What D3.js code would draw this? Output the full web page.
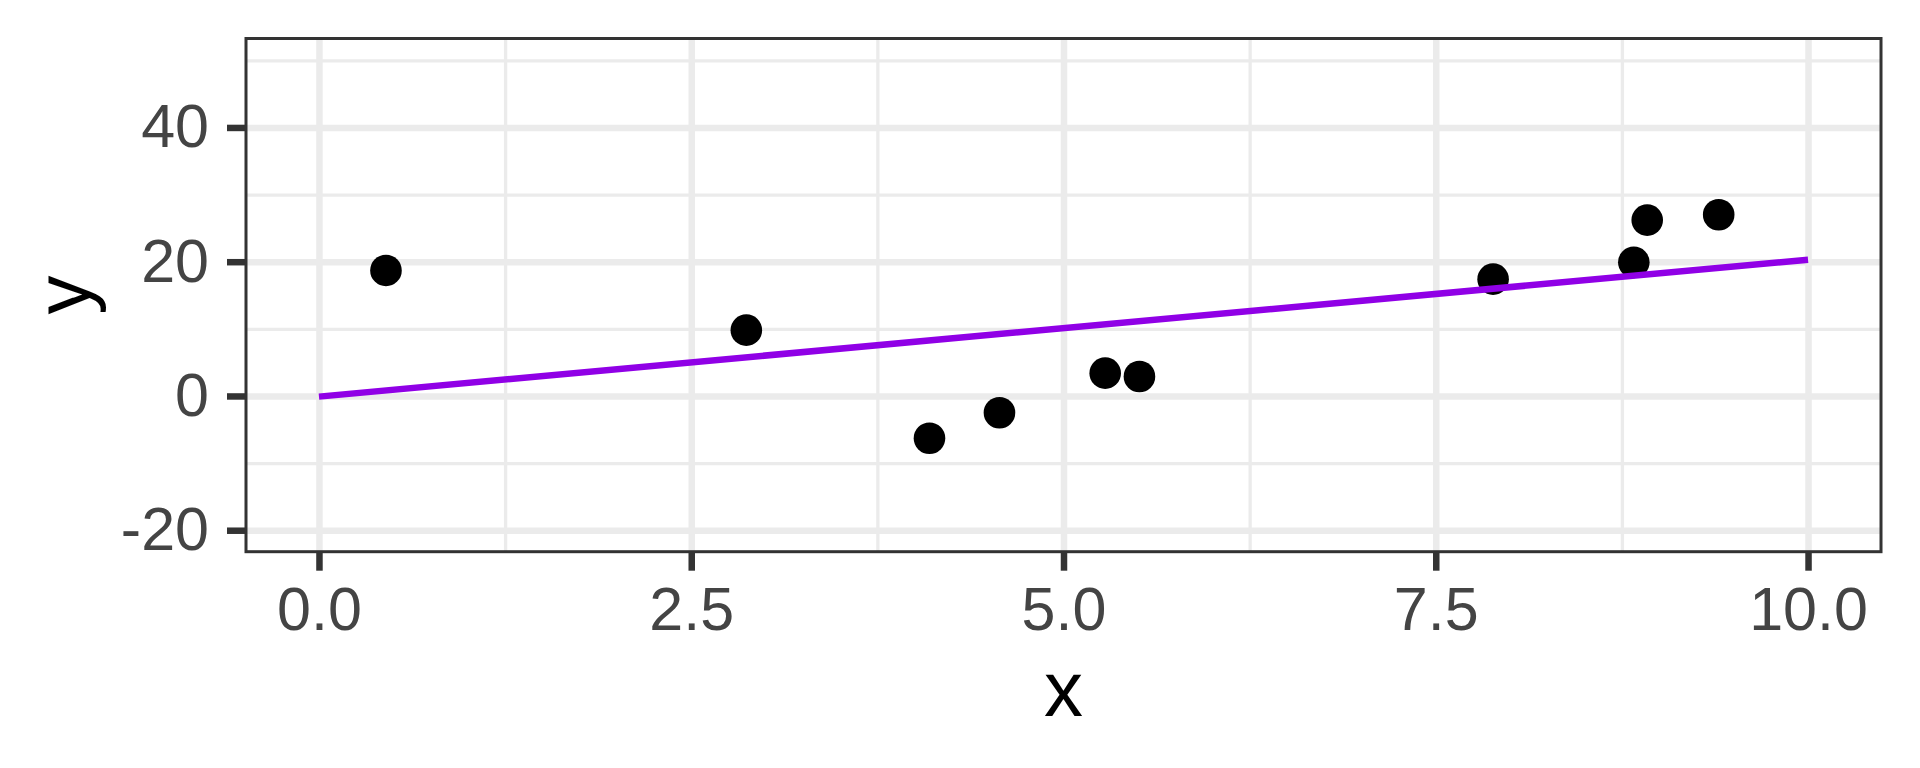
<!DOCTYPE html>
<html lang="en">
    <head>
        <meta charset="UTF-8">
        <script src="https://cdn.jsdelivr.net/npm/d3@7"></script>
        <title>Scatter with line</title>
        <style>
            body { margin: 0; background: #fff; }
            .grid .domain { display: none; }
            .grid text { display: none; }
            .axis .domain { display: none; }
            .axis text { font-family: "Liberation Sans", Arial, sans-serif; font-size: 61px; fill: #444; }
            .axis .tick line { stroke: #333; stroke-width: 6.5; }
            .title { font-family: "Liberation Sans", Arial, sans-serif; font-size: 78px; fill: #000; }
        </style>
    </head>
    <body>
        <div id="canvas"></div>

        <script>
            // points
            var xs = [0.45, 2.87, 4.10, 4.57, 5.28, 5.51, 7.885, 8.83, 8.92, 9.40];
            var ys = [18.7, 9.8, -6.3, -2.5, 3.4, 2.9, 17.4, 19.9, 26.2, 27.0];
            // straight line, two ends
            var lineX = [0, 10];
            var lineY = [-0.1, 20.3];
            // ticks
            var xMajor = [0, 2.5, 5, 7.5, 10];
            var xMinor = [1.25, 3.75, 6.25, 8.75];
            var yMajor = [-20, 0, 20, 40];
            var yMinor = [-10, 10, 30, 50];
            var xLabels = ["0.0", "2.5", "5.0", "7.5", "10.0"];
            var yLabels = ["-20", "0", "20", "40"];

            var W = 1920, H = 768;
            // "top" is taken by window.top, so use other names
            var padL = 246, padT = 38.5, pw = 1635, ph = 513.2;

            var x = d3.scaleLinear().domain([-0.49, 10.49]).range([0, pw]);
            var y = d3.scaleLinear().domain([-23.2, 53.25]).range([ph, 0]);

            var svg = d3.select("#canvas").append("svg")
                    .attr("width", W)
                    .attr("height", H);

            var g = svg.append("g").attr("transform", "translate(" + padL + "," + padT + ")");

            // grid: minor first, then major
            function grid(axis, vals, w) {
                var gg = g.append("g").classed("grid", true).call(axis.tickValues(vals).tickFormat(""));
                gg.selectAll(".tick line").attr("stroke", "#EBEBEB").attr("stroke-width", w);
                return gg;
            }
            grid(d3.axisBottom(x).tickSize(ph), xMinor, 3.3);
            grid(d3.axisLeft(y).tickSize(-pw), yMinor, 3.3);
            grid(d3.axisBottom(x).tickSize(ph), xMajor, 6.5);
            grid(d3.axisLeft(y).tickSize(-pw), yMajor, 6.5);

            // points
            g.selectAll("circle.pt")
                    .data(xs.map(function (d, i) { return [d, ys[i]]; }))
                    .enter().append("circle")
                    .classed("pt", true)
                    .attr("cx", function (d) { return x(d[0]); })
                    .attr("cy", function (d) { return y(d[1]); })
                    .attr("r", 15.8)
                    .attr("fill", "#000");

            // line on top of the points
            var line = d3.line()
                    .x(function (d) { return x(d[0]); })
                    .y(function (d) { return y(d[1]); });
            g.append("path")
                    .datum(lineX.map(function (d, i) { return [d, lineY[i]]; }))
                    .attr("d", line)
                    .attr("fill", "none")
                    .attr("stroke", "#9000E6")
                    .attr("stroke-width", 6.5);

            // panel border
            g.append("rect")
                    .attr("width", pw)
                    .attr("height", ph)
                    .attr("fill", "none")
                    .attr("stroke", "#333")
                    .attr("stroke-width", 3);

            // axes
            g.append("g")
                    .classed("axis", true)
                    .attr("transform", "translate(0," + ph + ")")
                    .call(d3.axisBottom(x).tickValues(xMajor)
                            .tickFormat(function (d, i) { return xLabels[i]; })
                            .tickSize(19).tickPadding(16));
            g.append("g")
                    .classed("axis", true)
                    .call(d3.axisLeft(y).tickValues(yMajor)
                            .tickFormat(function (d, i) { return yLabels[i]; })
                            .tickSize(19).tickPadding(18));

            // titles
            svg.append("text")
                    .classed("title", true)
                    .attr("x", padL + x(5))
                    .attr("y", 716)
                    .attr("text-anchor", "middle")
                    .text("x");
            svg.append("text")
                    .classed("title", true)
                    .attr("transform", "translate(90," + (padT + ph / 2) + ") rotate(-90)")
                    .attr("text-anchor", "middle")
                    .text("y");
        </script>
    </body>
</html>
